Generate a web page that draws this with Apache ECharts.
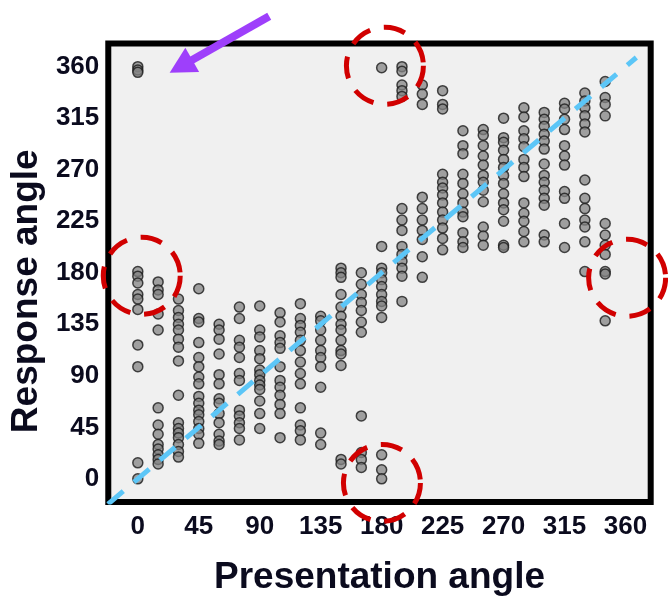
<!DOCTYPE html>
<html>
<head>
<meta charset="utf-8">
<script src="https://cdn.jsdelivr.net/npm/echarts@6/dist/echarts.min.js"></script>
<style>
  html, body { margin: 0; padding: 0; background: #ffffff; }
  #chart { width: 668px; height: 601px; }
</style>
</head>
<body>
<div id="chart"></div>
<script>
// Presented orientation (degrees) for each column of responses
const presentationAngles = [0, 15, 30, 45, 60, 75, 90, 105, 120, 135, 150, 165,
                            180, 195, 210, 225, 240, 255, 270, 285, 300, 315, 330, 345];

// Reported orientation (degrees), one list per presentation angle
const responseAngles = [
  [360, 357, 355, 181, 177, 171, 161, 157, 148, 117, 98, 14, 0],
  [172, 165, 161, 144, 130, 62, 47, 39, 30, 26, 21, 17, 13],
  [157, 147, 141, 135, 130, 122, 115, 103, 73, 49, 44, 40, 36, 30, 24, 19],
  [166, 140, 137, 119, 106, 98, 89, 83, 72, 66, 60, 56, 50, 44, 39, 31],
  [135, 130, 122, 109, 91, 83, 70, 66, 57, 49, 39, 33, 30],
  [150, 140, 121, 115, 106, 92, 86, 60, 55, 49, 44, 34],
  [151, 130, 124, 112, 105, 95, 91, 86, 82, 78, 68, 57, 44],
  [145, 137, 125, 119, 114, 98, 86, 80, 73, 65, 57, 36],
  [153, 140, 134, 128, 121, 112, 102, 92, 83, 62, 47, 42, 34],
  [142, 138, 130, 121, 112, 106, 98, 80, 40, 30],
  [184, 180, 176, 161, 150, 142, 135, 130, 121, 112, 109, 99, 17, 13],
  [180, 170, 161, 154, 147, 137, 128, 55, 23, 17, 10],
  [359, 203, 184, 180, 174, 168, 161, 155, 151, 141, 21, 8, 0],
  [360, 356, 344, 339, 334, 236, 226, 217, 203, 196, 190, 184, 177, 155],
  [344, 336, 327, 246, 236, 226, 217, 209, 194, 176],
  [339, 327, 323, 266, 259, 254, 248, 241, 233, 226, 219, 210, 200],
  [304, 291, 284, 266, 258, 249, 241, 233, 229, 215, 207, 202],
  [305, 300, 291, 282, 274, 265, 259, 252, 242, 220, 212, 204],
  [315, 298, 294, 287, 279, 272, 265, 258, 249, 241, 235, 225, 204, 202],
  [324, 316, 304, 297, 290, 279, 272, 264, 241, 232, 225, 216, 207],
  [320, 314, 308, 301, 295, 288, 275, 265, 259, 252, 245, 239, 213, 207],
  [328, 323, 314, 305, 291, 282, 274, 251, 245, 223, 202],
  [337, 330, 324, 317, 310, 303, 261, 245, 236, 226, 220, 207, 181],
  [347, 333, 327, 317, 223, 213, 204, 196, 181, 179, 138]
];

// Tick labels shared by both axes
const tickValues = [0, 45, 90, 135, 180, 225, 270, 315, 360];

// Axis extents (degrees)
const xRange = [-21.8, 378.6];
const yRange = [-20.2, 380.2];

// Reference line: response equals presentation
const identityLine = [[-22, -22], [368, 368]];

// Highlighted regions (data coordinates) and the pointer arrow (tail, tip)
const highlightCenters = [[182.4, 360.7], [2.9, 177.3], [180.2, -3.5], [361.2, 175.6]];
const pointerArrow = [[97, 404], [23.5, 354.7]];

const points = [];
presentationAngles.forEach((p, i) => {
  responseAngles[i].forEach(r => points.push([p, r]));
});

const labelFont = {
  fontFamily: 'Liberation Sans, Arial, sans-serif',
  fontWeight: 'bold',
  color: '#0b0b1e'
};

const chart = echarts.init(document.getElementById('chart'), null, { renderer: 'canvas' });

const option = {
  animation: false,
  backgroundColor: '#ffffff',
  grid: {
    left: 106.3,
    top: 43.5,
    width: 544.4,
    height: 462.8,
    show: true,
    backgroundColor: '#f0f0f0',
    borderColor: '#000000',
    borderWidth: 6,
    containLabel: false
  },
  xAxis: {
    type: 'value',
    min: xRange[0],
    max: xRange[1],
    axisLine: { show: false },
    axisTick: { show: false },
    splitLine: { show: false },
    axisLabel: Object.assign({
      customValues: tickValues,
      fontSize: 26,
      margin: 12
    }, labelFont),
    name: 'Presentation angle',
    nameLocation: 'middle',
    nameGap: 57,
    nameTextStyle: Object.assign({ fontSize: 37 }, labelFont)
  },
  yAxis: {
    type: 'value',
    min: yRange[0],
    max: yRange[1],
    axisLine: { show: false },
    axisTick: { show: false },
    splitLine: { show: false },
    axisLabel: Object.assign({
      customValues: tickValues,
      fontSize: 26,
      margin: 9
    }, labelFont),
    name: 'Response angle',
    nameLocation: 'middle',
    nameGap: 60,
    nameTextStyle: Object.assign({ fontSize: 37, padding: [0, 37, 0, 0] }, labelFont)
  },
  series: [
    {
      type: 'scatter',
      data: points,
      symbol: 'circle',
      symbolSize: 10,
      itemStyle: {
        color: 'rgba(130,130,130,0.92)',
        borderColor: '#1a1a1a',
        borderWidth: 1.5
      },
      z: 2
    },
    {
      type: 'line',
      data: identityLine,
      symbol: 'none',
      silent: true,
      lineStyle: {
        color: '#5cc6f7',
        width: 5,
        type: [20, 14],
        cap: 'butt'
      },
      z: 3
    }
  ]
};

chart.setOption(option);

// Annotation overlay positioned from data coordinates
const toPx = p => chart.convertToPixel({ xAxisIndex: 0, yAxisIndex: 0 }, p);
const overlay = [];

highlightCenters.forEach(c => {
  const [cx, cy] = toPx(c);
  overlay.push({
    type: 'circle',
    shape: { cx: cx, cy: cy, r: 38.5 },
    style: { fill: 'none', stroke: '#d10000', lineWidth: 5, lineDash: [22, 14] },
    z: 10
  });
});

const tail = toPx(pointerArrow[0]);
const tip = toPx(pointerArrow[1]);
const dx = tip[0] - tail[0], dy = tip[1] - tail[1];
const len = Math.hypot(dx, dy);
const ux = dx / len, uy = dy / len;
const headLen = 26, headHalf = 14;
const bx = tip[0] - ux * headLen, by = tip[1] - uy * headLen;
overlay.push({
  type: 'line',
  shape: { x1: tail[0], y1: tail[1], x2: bx + ux * 2, y2: by + uy * 2 },
  style: { stroke: '#9e3ffb', lineWidth: 8 },
  z: 10
});
overlay.push({
  type: 'polygon',
  shape: {
    points: [
      [tip[0], tip[1]],
      [bx - uy * headHalf, by + ux * headHalf],
      [bx + uy * headHalf, by - ux * headHalf]
    ]
  },
  style: { fill: '#9e3ffb' },
  z: 10
});

chart.setOption({ graphic: overlay });
</script>
</body>
</html>
